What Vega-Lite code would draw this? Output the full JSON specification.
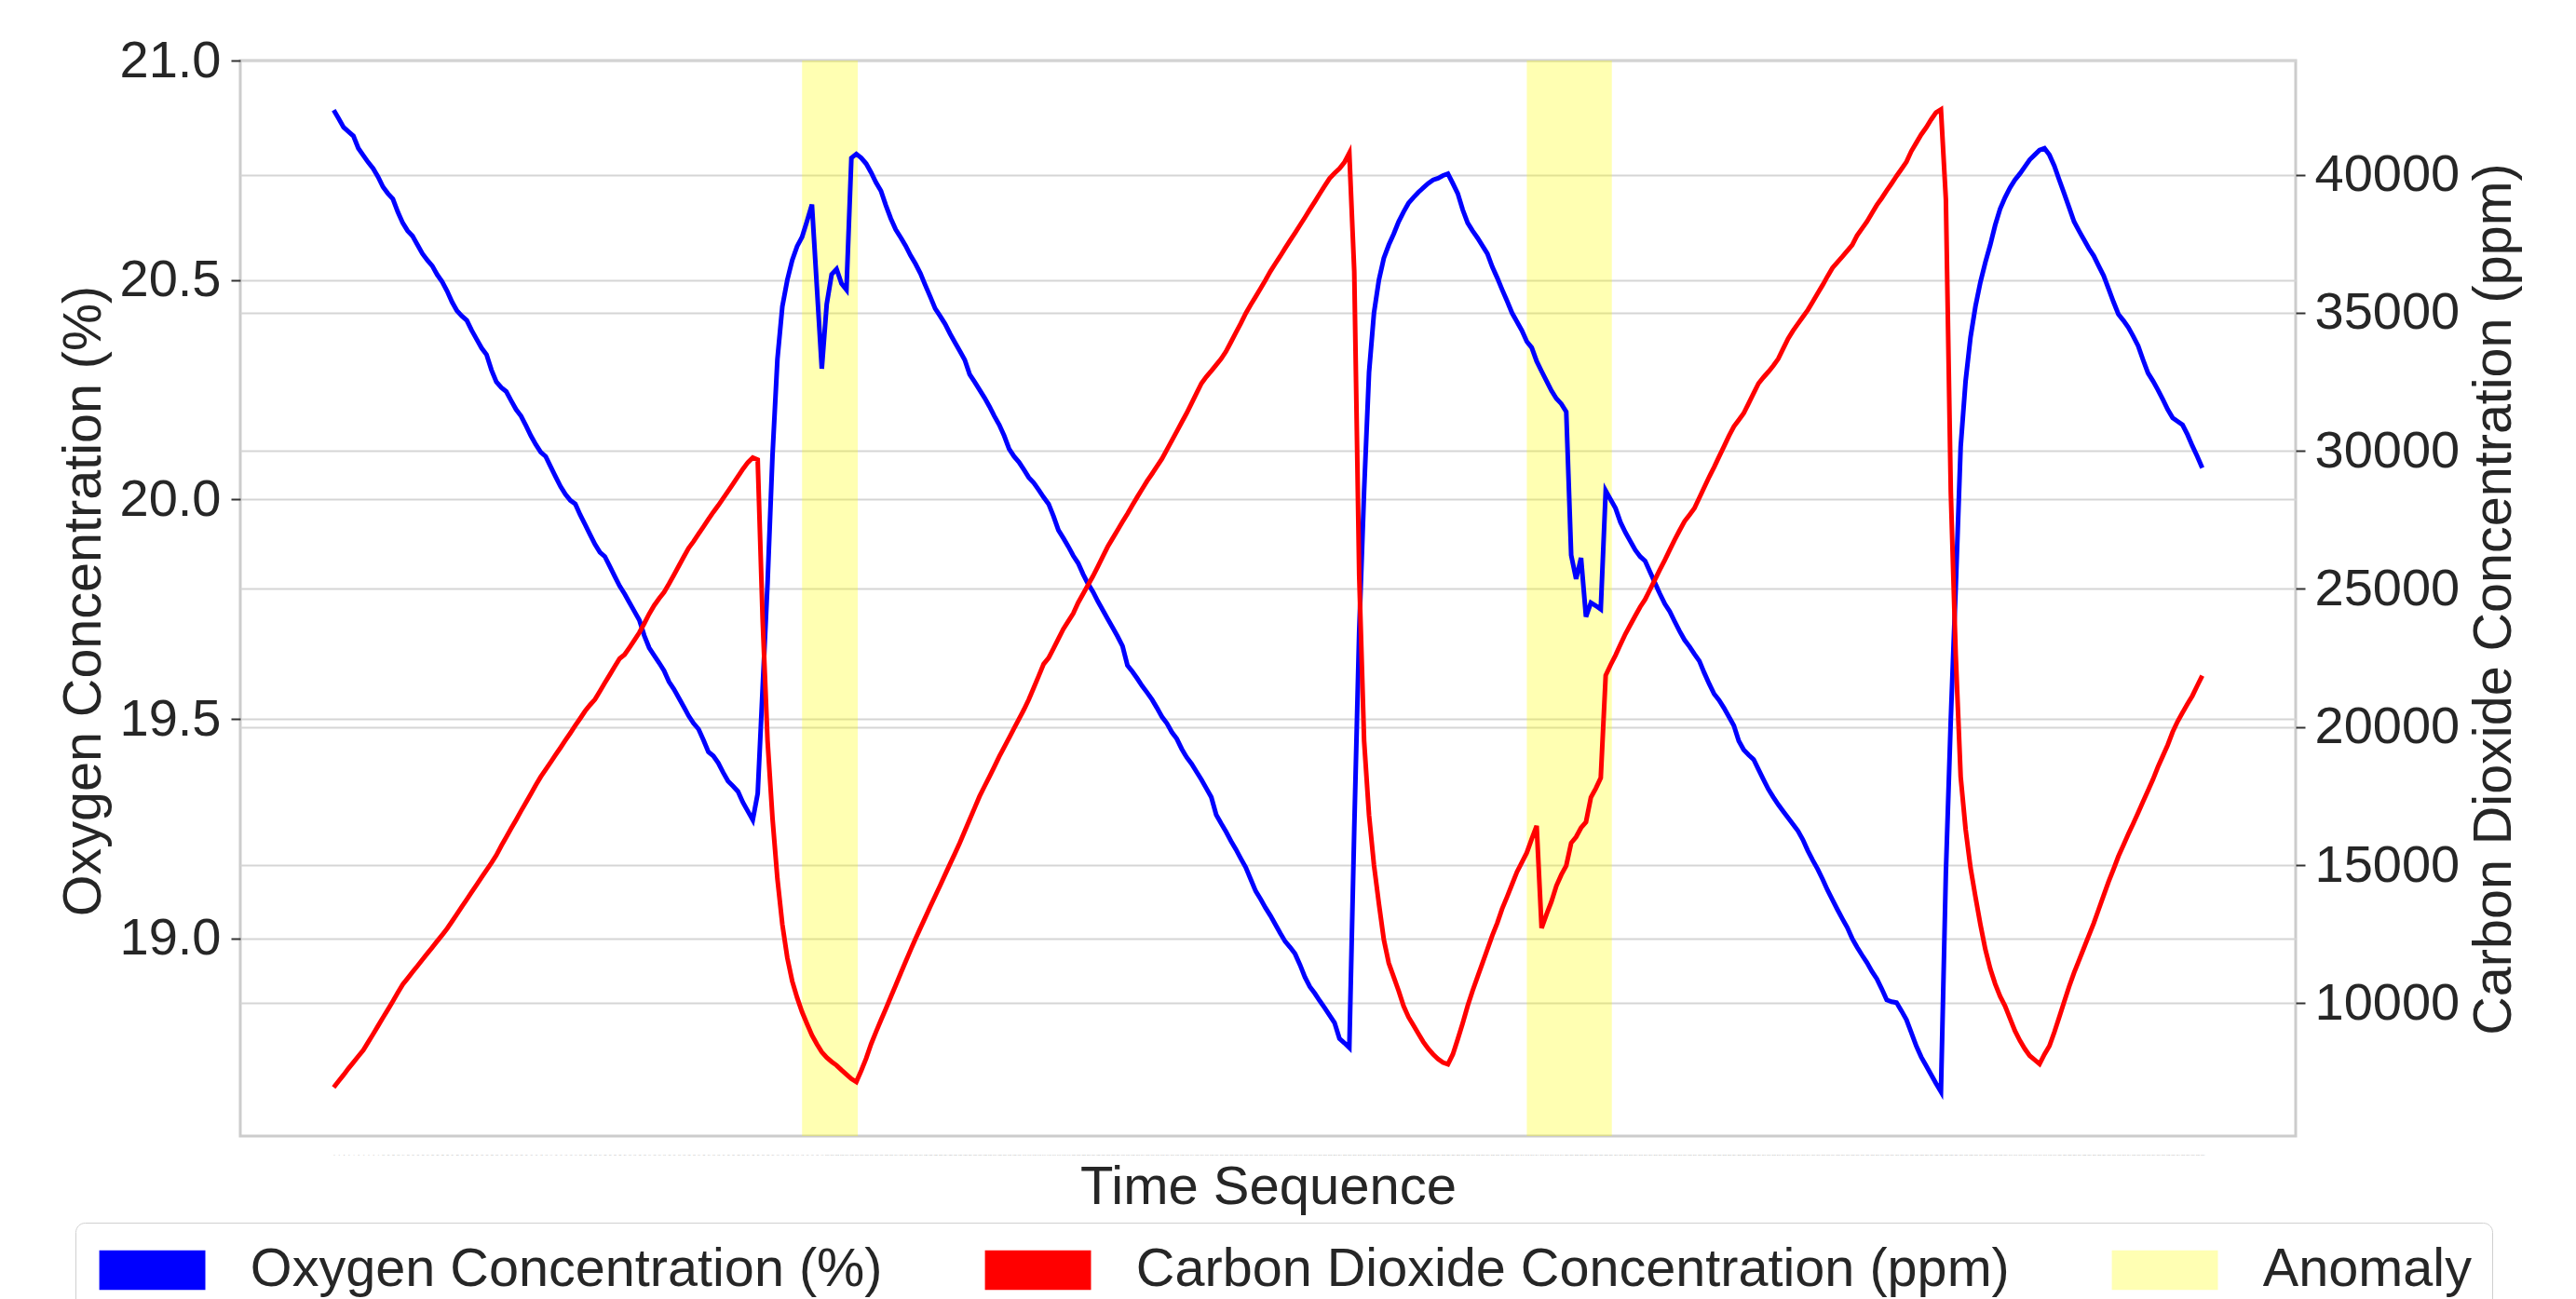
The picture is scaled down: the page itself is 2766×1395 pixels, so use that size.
{
"$schema":"https://vega.github.io/schema/vega-lite/v6.json",
"width":2207,"height":1155,
"autosize":{"type":"none"},
"padding":{"left":258,"top":65,"right":301,"bottom":175},
"config":{"font":"Liberation Sans","view":{"stroke":"#cccccc","strokeWidth":3}},
"datasets":{
"bands":[{"t":95,"t2":106.3},{"t":242,"t2":259.25}],
"keys":[{"t":0,"k":"Oxygen Concentration (%)"},{"t":0,"k":"Carbon Dioxide Concentration (ppm)"},{"t":0,"k":"Anomaly"}],
"series":[
{"t":0,"o2":20.887,"co2":6950},{"t":1,"o2":20.868,"co2":7180},{"t":2,"o2":20.848,"co2":7400},{"t":3,"o2":20.838,"co2":7640},{"t":4,"o2":20.828,"co2":7860},{"t":5,"o2":20.800,"co2":8080},{"t":6,"o2":20.784,"co2":8300},{"t":7,"o2":20.768,"co2":8590},{"t":8,"o2":20.754,"co2":8880},{"t":9,"o2":20.735,"co2":9180},
{"t":10,"o2":20.712,"co2":9480},{"t":11,"o2":20.697,"co2":9770},{"t":12,"o2":20.685,"co2":10070},{"t":13,"o2":20.655,"co2":10380},{"t":14,"o2":20.630,"co2":10680},{"t":15,"o2":20.612,"co2":10900},{"t":16,"o2":20.600,"co2":11130},{"t":17,"o2":20.580,"co2":11350},{"t":18,"o2":20.560,"co2":11580},{"t":19,"o2":20.545,"co2":11800},
{"t":20,"o2":20.532,"co2":12020},{"t":21,"o2":20.512,"co2":12250},{"t":22,"o2":20.496,"co2":12470},{"t":23,"o2":20.475,"co2":12700},{"t":24,"o2":20.450,"co2":12960},{"t":25,"o2":20.430,"co2":13230},{"t":26,"o2":20.418,"co2":13500},{"t":27,"o2":20.408,"co2":13760},{"t":28,"o2":20.385,"co2":14030},{"t":29,"o2":20.365,"co2":14290},
{"t":30,"o2":20.345,"co2":14560},{"t":31,"o2":20.330,"co2":14820},{"t":32,"o2":20.295,"co2":15080},{"t":33,"o2":20.268,"co2":15360},{"t":34,"o2":20.255,"co2":15700},{"t":35,"o2":20.246,"co2":16010},{"t":36,"o2":20.225,"co2":16330},{"t":37,"o2":20.205,"co2":16640},{"t":38,"o2":20.190,"co2":16960},{"t":39,"o2":20.168,"co2":17270},
{"t":40,"o2":20.145,"co2":17580},{"t":41,"o2":20.125,"co2":17900},{"t":42,"o2":20.108,"co2":18200},{"t":43,"o2":20.098,"co2":18460},{"t":44,"o2":20.075,"co2":18720},{"t":45,"o2":20.052,"co2":18990},{"t":46,"o2":20.030,"co2":19250},{"t":47,"o2":20.012,"co2":19520},{"t":48,"o2":19.998,"co2":19780},{"t":49,"o2":19.990,"co2":20050},
{"t":50,"o2":19.965,"co2":20310},{"t":51,"o2":19.943,"co2":20580},{"t":52,"o2":19.920,"co2":20800},{"t":53,"o2":19.898,"co2":21000},{"t":54,"o2":19.880,"co2":21300},{"t":55,"o2":19.870,"co2":21600},{"t":56,"o2":19.848,"co2":21890},{"t":57,"o2":19.825,"co2":22190},{"t":58,"o2":19.803,"co2":22480},{"t":59,"o2":19.785,"co2":22620},
{"t":60,"o2":19.765,"co2":22880},{"t":61,"o2":19.745,"co2":23150},{"t":62,"o2":19.725,"co2":23420},{"t":63,"o2":19.690,"co2":23750},{"t":64,"o2":19.662,"co2":24100},{"t":65,"o2":19.645,"co2":24400},{"t":66,"o2":19.628,"co2":24650},{"t":67,"o2":19.610,"co2":24880},{"t":68,"o2":19.585,"co2":25180},{"t":69,"o2":19.568,"co2":25500},
{"t":70,"o2":19.548,"co2":25830},{"t":71,"o2":19.528,"co2":26160},{"t":72,"o2":19.507,"co2":26480},{"t":73,"o2":19.490,"co2":26720},{"t":74,"o2":19.477,"co2":26990},{"t":75,"o2":19.452,"co2":27250},{"t":76,"o2":19.425,"co2":27520},{"t":77,"o2":19.416,"co2":27780},{"t":78,"o2":19.400,"co2":28020},{"t":79,"o2":19.378,"co2":28280},
{"t":80,"o2":19.358,"co2":28540},{"t":81,"o2":19.347,"co2":28800},{"t":82,"o2":19.335,"co2":29070},{"t":83,"o2":19.310,"co2":29340},{"t":84,"o2":19.290,"co2":29580},{"t":85,"o2":19.270,"co2":29750},{"t":86,"o2":19.330,"co2":29680},{"t":87,"o2":19.570,"co2":23900},{"t":88,"o2":19.810,"co2":19500},{"t":89,"o2":20.100,"co2":16700},
{"t":90,"o2":20.320,"co2":14500},{"t":91,"o2":20.440,"co2":12850},{"t":92,"o2":20.500,"co2":11650},{"t":93,"o2":20.545,"co2":10800},{"t":94,"o2":20.577,"co2":10200},{"t":95,"o2":20.598,"co2":9680},{"t":96,"o2":20.634,"co2":9250},{"t":97,"o2":20.672,"co2":8840},{"t":98,"o2":20.485,"co2":8520},{"t":99,"o2":20.298,"co2":8230},
{"t":100,"o2":20.445,"co2":8030},{"t":101,"o2":20.513,"co2":7880},{"t":102,"o2":20.525,"co2":7750},{"t":103,"o2":20.492,"co2":7580},{"t":104,"o2":20.478,"co2":7420},{"t":105,"o2":20.778,"co2":7260},{"t":106,"o2":20.787,"co2":7150},{"t":107,"o2":20.778,"co2":7560},{"t":108,"o2":20.765,"co2":8000},{"t":109,"o2":20.745,"co2":8520},
{"t":110,"o2":20.722,"co2":8960},{"t":111,"o2":20.703,"co2":9390},{"t":112,"o2":20.670,"co2":9800},{"t":113,"o2":20.640,"co2":10230},{"t":114,"o2":20.615,"co2":10650},{"t":115,"o2":20.597,"co2":11080},{"t":116,"o2":20.578,"co2":11500},{"t":117,"o2":20.556,"co2":11920},{"t":118,"o2":20.537,"co2":12330},{"t":119,"o2":20.515,"co2":12720},
{"t":120,"o2":20.488,"co2":13110},{"t":121,"o2":20.462,"co2":13500},{"t":122,"o2":20.435,"co2":13880},{"t":123,"o2":20.418,"co2":14260},{"t":124,"o2":20.400,"co2":14650},{"t":125,"o2":20.378,"co2":15040},{"t":126,"o2":20.358,"co2":15420},{"t":127,"o2":20.338,"co2":15810},{"t":128,"o2":20.318,"co2":16230},{"t":129,"o2":20.285,"co2":16650},
{"t":130,"o2":20.268,"co2":17070},{"t":131,"o2":20.250,"co2":17490},{"t":132,"o2":20.232,"co2":17850},{"t":133,"o2":20.212,"co2":18200},{"t":134,"o2":20.190,"co2":18560},{"t":135,"o2":20.170,"co2":18930},{"t":136,"o2":20.145,"co2":19270},{"t":137,"o2":20.115,"co2":19610},{"t":138,"o2":20.098,"co2":19950},{"t":139,"o2":20.085,"co2":20290},
{"t":140,"o2":20.068,"co2":20630},{"t":141,"o2":20.050,"co2":21000},{"t":142,"o2":20.038,"co2":21420},{"t":143,"o2":20.022,"co2":21850},{"t":144,"o2":20.005,"co2":22280},{"t":145,"o2":19.990,"co2":22500},{"t":146,"o2":19.962,"co2":22840},{"t":147,"o2":19.930,"co2":23200},{"t":148,"o2":19.912,"co2":23550},{"t":149,"o2":19.893,"co2":23830},
{"t":150,"o2":19.872,"co2":24110},{"t":151,"o2":19.855,"co2":24500},{"t":152,"o2":19.830,"co2":24820},{"t":153,"o2":19.808,"co2":25140},{"t":154,"o2":19.790,"co2":25460},{"t":155,"o2":19.768,"co2":25810},{"t":156,"o2":19.748,"co2":26170},{"t":157,"o2":19.728,"co2":26530},{"t":158,"o2":19.708,"co2":26830},{"t":159,"o2":19.688,"co2":27130},
{"t":160,"o2":19.666,"co2":27430},{"t":161,"o2":19.622,"co2":27720},{"t":162,"o2":19.608,"co2":28030},{"t":163,"o2":19.592,"co2":28330},{"t":164,"o2":19.575,"co2":28620},{"t":165,"o2":19.560,"co2":28910},{"t":166,"o2":19.544,"co2":29170},{"t":167,"o2":19.525,"co2":29440},{"t":168,"o2":19.505,"co2":29710},{"t":169,"o2":19.490,"co2":30040},
{"t":170,"o2":19.470,"co2":30370},{"t":171,"o2":19.455,"co2":30700},{"t":172,"o2":19.432,"co2":31030},{"t":173,"o2":19.413,"co2":31360},{"t":174,"o2":19.398,"co2":31720},{"t":175,"o2":19.380,"co2":32080},{"t":176,"o2":19.362,"co2":32440},{"t":177,"o2":19.342,"co2":32680},{"t":178,"o2":19.322,"co2":32890},{"t":179,"o2":19.282,"co2":33110},
{"t":180,"o2":19.262,"co2":33330},{"t":181,"o2":19.243,"co2":33600},{"t":182,"o2":19.222,"co2":33940},{"t":183,"o2":19.203,"co2":34280},{"t":184,"o2":19.182,"co2":34620},{"t":185,"o2":19.162,"co2":34980},{"t":186,"o2":19.135,"co2":35290},{"t":187,"o2":19.108,"co2":35580},{"t":188,"o2":19.090,"co2":35880},{"t":189,"o2":19.070,"co2":36180},
{"t":190,"o2":19.052,"co2":36500},{"t":191,"o2":19.032,"co2":36780},{"t":192,"o2":19.012,"co2":37050},{"t":193,"o2":18.993,"co2":37340},{"t":194,"o2":18.980,"co2":37620},{"t":195,"o2":18.965,"co2":37890},{"t":196,"o2":18.940,"co2":38170},{"t":197,"o2":18.912,"co2":38450},{"t":198,"o2":18.890,"co2":38740},{"t":199,"o2":18.875,"co2":39020},
{"t":200,"o2":18.858,"co2":39310},{"t":201,"o2":18.842,"co2":39590},{"t":202,"o2":18.825,"co2":39860},{"t":203,"o2":18.808,"co2":40050},{"t":204,"o2":18.772,"co2":40220},{"t":205,"o2":18.762,"co2":40440},{"t":206,"o2":18.751,"co2":40783},{"t":207,"o2":19.250,"co2":36490},{"t":208,"o2":19.700,"co2":25500},{"t":209,"o2":20.020,"co2":19500},
{"t":210,"o2":20.290,"co2":16800},{"t":211,"o2":20.425,"co2":15000},{"t":212,"o2":20.500,"co2":13600},{"t":213,"o2":20.550,"co2":12300},{"t":214,"o2":20.580,"co2":11450},{"t":215,"o2":20.605,"co2":10950},{"t":216,"o2":20.633,"co2":10450},{"t":217,"o2":20.655,"co2":9900},{"t":218,"o2":20.675,"co2":9500},{"t":219,"o2":20.688,"co2":9200},
{"t":220,"o2":20.700,"co2":8900},{"t":221,"o2":20.710,"co2":8600},{"t":222,"o2":20.720,"co2":8350},{"t":223,"o2":20.728,"co2":8150},{"t":224,"o2":20.732,"co2":7980},{"t":225,"o2":20.738,"co2":7850},{"t":226,"o2":20.742,"co2":7790},{"t":227,"o2":20.720,"co2":8150},{"t":228,"o2":20.697,"co2":8700},{"t":229,"o2":20.660,"co2":9280},
{"t":230,"o2":20.630,"co2":9900},{"t":231,"o2":20.612,"co2":10450},{"t":232,"o2":20.596,"co2":10950},{"t":233,"o2":20.578,"co2":11450},{"t":234,"o2":20.560,"co2":11950},{"t":235,"o2":20.530,"co2":12450},{"t":236,"o2":20.505,"co2":12900},{"t":237,"o2":20.478,"co2":13420},{"t":238,"o2":20.452,"co2":13850},{"t":239,"o2":20.425,"co2":14300},
{"t":240,"o2":20.405,"co2":14750},{"t":241,"o2":20.385,"co2":15100},{"t":242,"o2":20.360,"co2":15450},{"t":243,"o2":20.346,"co2":15950},{"t":244,"o2":20.315,"co2":16420},{"t":245,"o2":20.292,"co2":12720},{"t":246,"o2":20.270,"co2":13220},{"t":247,"o2":20.248,"co2":13680},{"t":248,"o2":20.230,"co2":14250},{"t":249,"o2":20.218,"co2":14650},
{"t":250,"o2":20.200,"co2":14980},{"t":251,"o2":19.873,"co2":15800},{"t":252,"o2":19.819,"co2":16020},{"t":253,"o2":19.867,"co2":16350},{"t":254,"o2":19.733,"co2":16560},{"t":255,"o2":19.765,"co2":17450},{"t":256,"o2":19.758,"co2":17780},{"t":257,"o2":19.750,"co2":18160},{"t":258,"o2":20.020,"co2":21870},{"t":259,"o2":20.000,"co2":22250},
{"t":260,"o2":19.980,"co2":22600},{"t":261,"o2":19.948,"co2":22990},{"t":262,"o2":19.925,"co2":23370},{"t":263,"o2":19.905,"co2":23700},{"t":264,"o2":19.885,"co2":24030},{"t":265,"o2":19.870,"co2":24350},{"t":266,"o2":19.860,"co2":24620},{"t":267,"o2":19.835,"co2":24980},{"t":268,"o2":19.810,"co2":25340},{"t":269,"o2":19.785,"co2":25700},
{"t":270,"o2":19.762,"co2":26050},{"t":271,"o2":19.745,"co2":26420},{"t":272,"o2":19.722,"co2":26780},{"t":273,"o2":19.700,"co2":27120},{"t":274,"o2":19.680,"co2":27450},{"t":275,"o2":19.665,"co2":27680},{"t":276,"o2":19.648,"co2":27920},{"t":277,"o2":19.632,"co2":28300},{"t":278,"o2":19.605,"co2":28680},{"t":279,"o2":19.580,"co2":29060},
{"t":280,"o2":19.557,"co2":29410},{"t":281,"o2":19.543,"co2":29790},{"t":282,"o2":19.525,"co2":30160},{"t":283,"o2":19.505,"co2":30540},{"t":284,"o2":19.485,"co2":30880},{"t":285,"o2":19.450,"co2":31120},{"t":286,"o2":19.430,"co2":31360},{"t":287,"o2":19.418,"co2":31720},{"t":288,"o2":19.408,"co2":32080},{"t":289,"o2":19.385,"co2":32440},
{"t":290,"o2":19.362,"co2":32660},{"t":291,"o2":19.340,"co2":32860},{"t":292,"o2":19.322,"co2":33080},{"t":293,"o2":19.305,"co2":33330},{"t":294,"o2":19.290,"co2":33700},{"t":295,"o2":19.275,"co2":34060},{"t":296,"o2":19.260,"co2":34350},{"t":297,"o2":19.245,"co2":34600},{"t":298,"o2":19.225,"co2":34850},{"t":299,"o2":19.200,"co2":35100},
{"t":300,"o2":19.178,"co2":35400},{"t":301,"o2":19.158,"co2":35700},{"t":302,"o2":19.135,"co2":36000},{"t":303,"o2":19.110,"co2":36320},{"t":304,"o2":19.088,"co2":36620},{"t":305,"o2":19.066,"co2":36830},{"t":306,"o2":19.045,"co2":37030},{"t":307,"o2":19.025,"co2":37240},{"t":308,"o2":19.000,"co2":37450},{"t":309,"o2":18.980,"co2":37800},
{"t":310,"o2":18.962,"co2":38050},{"t":311,"o2":18.945,"co2":38300},{"t":312,"o2":18.925,"co2":38600},{"t":313,"o2":18.908,"co2":38900},{"t":314,"o2":18.885,"co2":39150},{"t":315,"o2":18.860,"co2":39420},{"t":316,"o2":18.856,"co2":39680},{"t":317,"o2":18.854,"co2":39950},{"t":318,"o2":18.835,"co2":40200},{"t":319,"o2":18.815,"co2":40460},
{"t":320,"o2":18.785,"co2":40850},{"t":321,"o2":18.755,"co2":41150},{"t":322,"o2":18.730,"co2":41450},{"t":323,"o2":18.710,"co2":41700},{"t":324,"o2":18.690,"co2":41990},{"t":325,"o2":18.670,"co2":42250},{"t":326,"o2":18.651,"co2":42360},{"t":327,"o2":19.150,"co2":39100},{"t":328,"o2":19.500,"co2":28500},{"t":329,"o2":19.800,"co2":22600},
{"t":330,"o2":20.120,"co2":18200},{"t":331,"o2":20.270,"co2":16300},{"t":332,"o2":20.370,"co2":14900},{"t":333,"o2":20.440,"co2":13850},{"t":334,"o2":20.495,"co2":12850},{"t":335,"o2":20.540,"co2":11950},{"t":336,"o2":20.580,"co2":11250},{"t":337,"o2":20.625,"co2":10700},{"t":338,"o2":20.662,"co2":10250},{"t":339,"o2":20.688,"co2":9900},
{"t":340,"o2":20.710,"co2":9450},{"t":341,"o2":20.728,"co2":9000},{"t":342,"o2":20.742,"co2":8650},{"t":343,"o2":20.758,"co2":8350},{"t":344,"o2":20.774,"co2":8100},{"t":345,"o2":20.785,"co2":7950},{"t":346,"o2":20.796,"co2":7800},{"t":347,"o2":20.800,"co2":8150},{"t":348,"o2":20.785,"co2":8450},{"t":349,"o2":20.760,"co2":8950},
{"t":350,"o2":20.728,"co2":9500},{"t":351,"o2":20.697,"co2":10050},{"t":352,"o2":20.665,"co2":10600},{"t":353,"o2":20.633,"co2":11100},{"t":354,"o2":20.612,"co2":11550},{"t":355,"o2":20.592,"co2":12000},{"t":356,"o2":20.572,"co2":12450},{"t":357,"o2":20.555,"co2":12900},{"t":358,"o2":20.532,"co2":13400},{"t":359,"o2":20.510,"co2":13900},
{"t":360,"o2":20.480,"co2":14400},{"t":361,"o2":20.450,"co2":14850},{"t":362,"o2":20.422,"co2":15320},{"t":363,"o2":20.408,"co2":15720},{"t":364,"o2":20.392,"co2":16120},{"t":365,"o2":20.372,"co2":16500},{"t":366,"o2":20.350,"co2":16900},{"t":367,"o2":20.318,"co2":17300},{"t":368,"o2":20.288,"co2":17700},{"t":369,"o2":20.270,"co2":18100},
{"t":370,"o2":20.250,"co2":18550},{"t":371,"o2":20.228,"co2":18950},{"t":372,"o2":20.205,"co2":19350},{"t":373,"o2":20.186,"co2":19820},{"t":374,"o2":20.178,"co2":20200},{"t":375,"o2":20.170,"co2":20520},{"t":376,"o2":20.148,"co2":20830},{"t":377,"o2":20.122,"co2":21130},{"t":378,"o2":20.098,"co2":21500},{"t":379,"o2":20.072,"co2":21860}
]},
"encoding":{
"x":{"field":"t","type":"quantitative","scale":{"domain":[-18.95,397.95],"nice":false,"zero":false},
"axis":{"title":"Time Sequence","titleFontSize":58,"titleFontWeight":"normal","titleColor":"#262626","titleBaseline":"alphabetic","titleY":72,
"values":[0,1,2,3,4,5,6,7,8,9,10,11,12,13,14,15,16,17,18,19,20,21,22,23,24,25,26,27,28,29,30,31,32,33,34,35,36,37,38,39,40,41,42,43,44,45,46,47,48,49,50,51,52,53,54,55,56,57,58,59,60,61,62,63,64,65,66,67,68,69,70,71,72,73,74,75,76,77,78,79,80,81,82,83,84,85,86,87,88,89,90,91,92,93,94,95,96,97,98,99,100,101,102,103,104,105,106,107,108,109,110,111,112,113,114,115,116,117,118,119,120,121,122,123,124,125,126,127,128,129,130,131,132,133,134,135,136,137,138,139,140,141,142,143,144,145,146,147,148,149,150,151,152,153,154,155,156,157,158,159,160,161,162,163,164,165,166,167,168,169,170,171,172,173,174,175,176,177,178,179,180,181,182,183,184,185,186,187,188,189,190,191,192,193,194,195,196,197,198,199,200,201,202,203,204,205,206,207,208,209,210,211,212,213,214,215,216,217,218,219,220,221,222,223,224,225,226,227,228,229,230,231,232,233,234,235,236,237,238,239,240,241,242,243,244,245,246,247,248,249,250,251,252,253,254,255,256,257,258,259,260,261,262,263,264,265,266,267,268,269,270,271,272,273,274,275,276,277,278,279,280,281,282,283,284,285,286,287,288,289,290,291,292,293,294,295,296,297,298,299,300,301,302,303,304,305,306,307,308,309,310,311,312,313,314,315,316,317,318,319,320,321,322,323,324,325,326,327,328,329,330,331,332,333,334,335,336,337,338,339,340,341,342,343,344,345,346,347,348,349,350,351,352,353,354,355,356,357,358,359,360,361,362,363,364,365,366,367,368,369,370,371,372,373,374,375,376,377,378,379],
"format":"d","labelFontSize":2.5,"labelColor":"#b0b0b0","labelOverlap":false,"labelFlush":false,"labelPadding":20,"labelBaseline":"middle","ticks":false,"domain":false,"grid":false}}
},
"layer":[
{"data":{"name":"bands"},"mark":{"type":"rect","color":"#ffff00","opacity":0.3},"encoding":{"x2":{"field":"t2"}}},
{"data":{"name":"series"},"mark":{"type":"line","color":"#0000ff","strokeWidth":5},
 "encoding":{"y":{"field":"o2","type":"quantitative","scale":{"domain":[18.55,21.0],"nice":false,"zero":false},
 "axis":{"orient":"left","values":[19,19.5,20,20.5,21],"format":".1f","labelFontSize":56,"labelColor":"#262626","labelPadding":11,"labelFlush":false,"tickSize":10,"tickWidth":2,"tickColor":"#333333","domain":false,"grid":true,"gridColor":"#d5d5d5","gridWidth":2,
 "title":"Oxygen Concentration (%)","titleFontSize":57.5,"titleFontWeight":"normal","titleColor":"#262626","titleX":-151,"titleY":580,"titleBaseline":"alphabetic","titleAngle":-90,"titleAlign":"center"}}}},
{"data":{"name":"series"},"mark":{"type":"line","color":"#ff0000","strokeWidth":5},
 "encoding":{"y":{"field":"co2","type":"quantitative","scale":{"domain":[5190,44130],"nice":false,"zero":false},
 "axis":{"orient":"right","values":[10000,15000,20000,25000,30000,35000,40000],"format":"d","labelFontSize":56,"labelColor":"#262626","labelPadding":10,"labelFlush":false,"tickSize":10,"tickWidth":2,"tickColor":"#333333","domain":false,"grid":true,"gridColor":"#d5d5d5","gridWidth":2,
 "title":"Carbon Dioxide Concentration (ppm)","titleFontSize":57.5,"titleFontWeight":"normal","titleColor":"#262626","titleX":230,"titleY":578,"titleBaseline":"alphabetic","titleAngle":-90,"titleAlign":"center"}}}},
{"data":{"name":"keys"},"mark":{"type":"point","filled":true,"opacity":0,"size":1},
 "encoding":{"color":{"field":"k","type":"nominal","sort":null,
 "scale":{"domain":["Oxygen Concentration (%)","Carbon Dioxide Concentration (ppm)","Anomaly"],"range":["#0000ff","#ff0000","#ffffb3"]},
 "legend":{"title":null,"orient":"none","legendX":-177,"legendY":1248,"direction":"horizontal","columns":3,
 "labelFontSize":57.6,"labelColor":"#262626","labelLimit":3000,"labelBaseline":"middle",
 "symbolType":"M-2.68,-1L2.68,-1L2.68,1L-2.68,1Z","symbolSize":1806,"symbolOffset":31.75,"symbolStrokeWidth":0,"symbolOpacity":1,
 "labelOffset":76.5,"columnPadding":106,"padding":22,"strokeColor":"#d0d0d0","cornerRadius":10,"fillColor":"#ffffff"}}}}
],
"resolve":{"scale":{"y":"independent"}}
}
